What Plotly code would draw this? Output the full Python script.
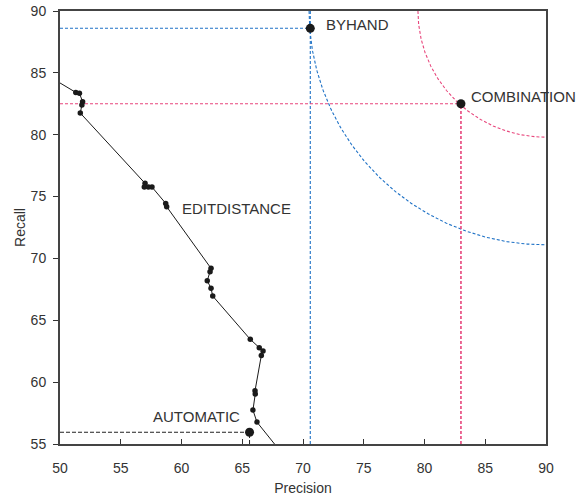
import numpy as np
import plotly.graph_objects as go

# EDITDISTANCE curve (precision, recall)
edit_p = [49.8, 51.3, 51.6, 51.86, 51.8, 51.67, 57.0, 56.94, 57.27, 57.57, 58.70, 58.78,
          62.43, 62.35, 62.12, 62.43, 62.57, 65.66, 66.4, 66.71, 66.57, 66.05, 66.07, 65.88, 66.21, 67.9]
edit_r = [84.3, 83.42, 83.35, 82.67, 82.40, 81.75, 76.07, 75.77, 75.77, 75.77, 74.45, 74.18,
          69.2, 68.93, 68.2, 67.58, 66.96, 63.46, 62.78, 62.51, 62.16, 59.3, 59.04, 57.74, 56.77, 54.7]
edit_marker = [False] + [True] * 24 + [False]

# Single systems
sys_names = ["BYHAND", "COMBINATION", "AUTOMATIC"]
sys_p = [70.6, 83.0, 65.6]
sys_r = [88.6, 82.5, 55.95]
sys_colors = ["#1f72c6", "#e8467c", "#222222"]

# iso-curves: ellipse arcs centred on the top-right corner
arc_center = (90.0, 90.0)
arc_radii = {"BYHAND": (19.5, 18.9), "COMBINATION": (10.54, 10.2)}

label_pos = {"BYHAND": (71.7, 88.9, "left"), "COMBINATION": (83.7, 83.1, "left"),
             "AUTOMATIC": (61.2, 57.2, "center"), "EDITDISTANCE": (59.9, 74.0, "left")}

xmin, xmax, ymin, ymax = 50, 90, 55, 90
FONT = "Liberation Sans, Arial, sans-serif"

fig = go.Figure()

# arcs
for name, col in [("BYHAND", sys_colors[0]), ("COMBINATION", sys_colors[1])]:
    rx, ry = arc_radii[name]
    t = np.linspace(np.pi, 1.5 * np.pi, 200)
    fig.add_trace(go.Scatter(x=arc_center[0] + rx * np.cos(t), y=arc_center[1] + ry * np.sin(t),
                             mode="lines", line=dict(color=col, width=1.1, dash="3px,2px"),
                             hoverinfo="skip", showlegend=False))

# guide lines
i = 0
fig.add_trace(go.Scatter(x=[xmin, sys_p[i]], y=[sys_r[i], sys_r[i]], mode="lines",
                         line=dict(color=sys_colors[i], width=1.1, dash="3px,2px"), showlegend=False))
fig.add_trace(go.Scatter(x=[sys_p[i], sys_p[i]], y=[ymin, ymax], mode="lines",
                         line=dict(color=sys_colors[i], width=1.1, dash="3px,2px"), showlegend=False))
i = 1
fig.add_trace(go.Scatter(x=[xmin, sys_p[i]], y=[sys_r[i], sys_r[i]], mode="lines",
                         line=dict(color=sys_colors[i], width=1.1, dash="3px,2px"), showlegend=False))
fig.add_trace(go.Scatter(x=[sys_p[i], sys_p[i]], y=[ymin, sys_r[i]], mode="lines",
                         line=dict(color=sys_colors[i], width=1.6, dash="3px,2px"), showlegend=False))
i = 2
fig.add_trace(go.Scatter(x=[xmin, sys_p[i]], y=[sys_r[i], sys_r[i]], mode="lines",
                         line=dict(color="#222222", width=1, dash="4px,2px"), showlegend=False))
fig.add_trace(go.Scatter(x=[sys_p[i], sys_p[i]], y=[ymin, sys_r[i]], mode="lines",
                         line=dict(color="#222222", width=1, dash="4px,2px"), showlegend=False))

# EDITDISTANCE line
fig.add_trace(go.Scatter(x=edit_p, y=edit_r, mode="lines",
                         line=dict(color="#1a1a1a", width=1), showlegend=False))
fig.add_trace(go.Scatter(x=[p for p, m in zip(edit_p, edit_marker) if m],
                         y=[r for r, m in zip(edit_r, edit_marker) if m],
                         mode="markers", marker=dict(color="#1a1a1a", size=5.5),
                         cliponaxis=False, showlegend=False))

# system points
fig.add_trace(go.Scatter(x=sys_p, y=sys_r, mode="markers",
                         marker=dict(color="#1a1a1a", size=9), cliponaxis=False, showlegend=False))

for name, (lx, ly, anc) in label_pos.items():
    fig.add_annotation(x=lx, y=ly, text=name, showarrow=False, xanchor=anc, yanchor="middle",
                       font=dict(family=FONT, size=15, color="#333333"))

axis_common = dict(showgrid=False, zeroline=False, showline=True, linecolor="#444444", linewidth=2,
                   mirror=True, ticklen=5, tickcolor="#333333", tickwidth=1, automargin=False,
                   tickfont=dict(family=FONT, size=14, color="#333333"),
                   dtick=5)

fig.update_layout(
    width=583, height=497,
    margin=dict(l=60, r=37, t=11, b=53),
    plot_bgcolor="white", paper_bgcolor="white",
    xaxis=dict(range=[xmin, xmax], ticks="inside", tick0=50, ticklabelstandoff=10, **axis_common,
               title=dict(text="Precision", standoff=8,
                          font=dict(family=FONT, size=14, color="#333333"))),
    yaxis=dict(range=[ymin, ymax], ticks="outside", tick0=55, ticklabelstandoff=4, **axis_common,
               title=dict(text="Recall", standoff=2,
                          font=dict(family=FONT, size=14, color="#333333"))),
)

fig.write_html("out.html", config={"displayModeBar": False},
               post_script="document.body.style.margin='0';document.body.style.overflow='hidden';")
